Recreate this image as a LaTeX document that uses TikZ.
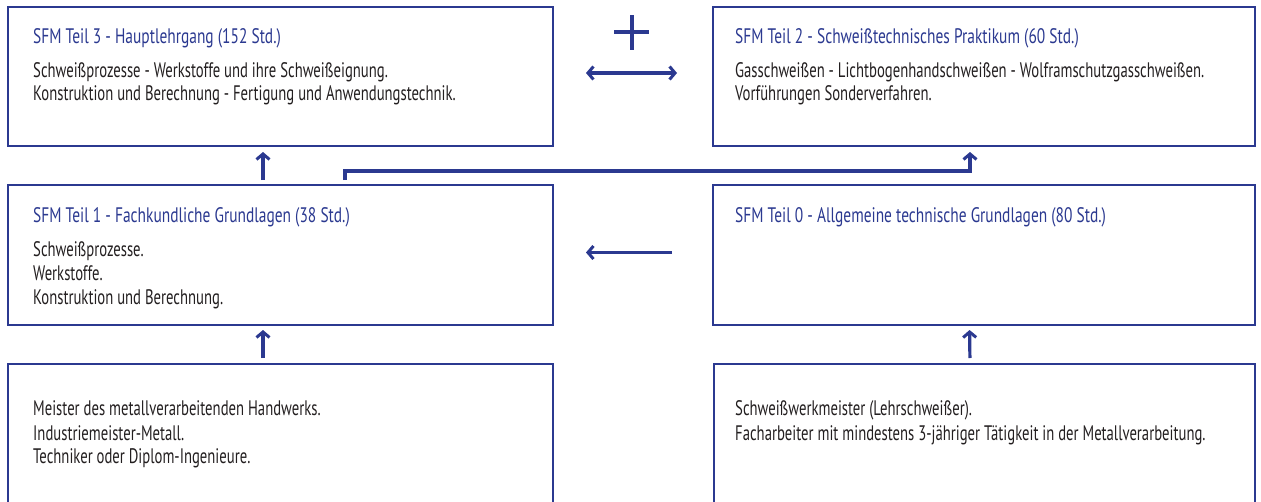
\documentclass[tikz,border=0pt]{standalone}
\usepackage{fontspec}
\setmainfont{PT Sans}[FakeStretch=0.70]
\newfontfamily\sfmttlfont{PT Sans}[FakeStretch=0.735]
\usetikzlibrary{arrows.meta}
\definecolor{sfmblue}{HTML}{2B3990}
\definecolor{sfmtext}{HTML}{231F20}
\begin{document}
\begin{tikzpicture}[x=1pt,y=-1pt,
  box/.style={draw=sfmblue,line width=1.5pt,inner sep=0pt,outer sep=0pt,anchor=north west},
  ttl/.style={text=sfmblue,font=\sfmttlfont\fontsize{21}{24}\selectfont,anchor=base west,inner sep=0pt},
  txt/.style={text=sfmtext,font=\fontsize{21}{24}\selectfont,anchor=base west,inner sep=0pt},
  barb/.tip={Straight Barb[length=5.5pt,width=13pt,line width=3pt]},
  arr/.style={draw=sfmblue,line width=3.2pt,-barb},
  darr/.style={draw=sfmblue,line width=3.2pt,barb-barb},
]
\useasboundingbox (0,0) rectangle (1261,501);
% boxes
\node[box,minimum width=545pt,minimum height=139pt] (t3) at (8,7) {};
\node[box,minimum width=542pt,minimum height=139pt] (t2) at (713,7) {};
\node[box,minimum width=545pt,minimum height=140pt] (t1) at (8,185) {};
\node[box,minimum width=542pt,minimum height=140pt] (t0) at (713,185) {};
\node[box,minimum width=545pt,minimum height=150pt] (bl) at (8,364) {};
\node[box,minimum width=541pt,minimum height=150pt] (br) at (714,364) {};
% texts
\node[ttl] (t3t) at (33,43) {SFM Teil 3 - Hauptlehrgang (152 Std.)};
\node[txt] (t3a) at (33,77) {Schweißprozesse - Werkstoffe und ihre Schweißeignung.};
\node[txt] (t3b) at (33,100) {Konstruktion und Berechnung - Fertigung und Anwendungstechnik.};
\node[ttl] (t2t) at (735,43) {SFM Teil 2 - Schweißtechnisches Praktikum (60 Std.)};
\node[txt] (t2a) at (735,77) {Gasschweißen - Lichtbogenhandschweißen - Wolframschutzgasschweißen.};
\node[txt] (t2b) at (735,100) {Vorführungen Sonderverfahren.};
\node[ttl] (t1t) at (33,222) {SFM Teil 1 - Fachkundliche Grundlagen (38 Std.)};
\node[txt] (t1a) at (33,256) {Schweißprozesse.};
\node[txt] (t1b) at (33,280) {Werkstoffe.};
\node[txt] (t1c) at (33,304) {Konstruktion und Berechnung.};
\node[ttl] (t0t) at (735,222) {SFM Teil 0 - Allgemeine technische Grundlagen (80 Std.)};
\node[txt] (bla) at (33,415) {Meister des metallverarbeitenden Handwerks.};
\node[txt] (blb) at (33,440) {Industriemeister-Metall.};
\node[txt] (blc) at (33,463) {Techniker oder Diplom-Ingenieure.};
\node[txt] (bra) at (735,415) {Schweißwerkmeister (Lehrschweißer).};
\node[txt] (brb) at (735,440) {Facharbeiter mit mindestens 3-jähriger Tätigkeit in der Metallverarbeitung.};
% plus sign
\draw[sfmblue,line width=4.5pt] (614,32) -- (649,32) (632,15) -- (632,50);
% connectors
\draw[darr,shorten <=33pt,shorten >=36pt] ([yshift=3.5pt]t3.east) -- ([yshift=3.5pt]t2.west);
\draw[arr,shorten <=5pt,shorten >=6pt] ([xshift=-17.5pt]t1.north) -- ([xshift=-17.5pt]t3.south);
\draw[arr] ([xshift=64.5pt,yshift=5pt]t1.north) -- ++(0,-9) -| ([xshift=-14pt,yshift=-6pt]t2.south);
\draw[arr,shorten <=41pt,shorten >=33pt] ([yshift=2.5pt]t0.west) -- ([yshift=2.5pt]t1.east);
\draw[arr,shorten <=6pt,shorten >=5pt] ([xshift=-17.5pt]bl.north) -- ([xshift=-17.5pt]t1.south);
\draw[arr,shorten <=6pt,shorten >=5pt] ([xshift=-14.5pt]br.north) -- ([xshift=-14.5pt]t0.south);
\end{tikzpicture}
\end{document}
